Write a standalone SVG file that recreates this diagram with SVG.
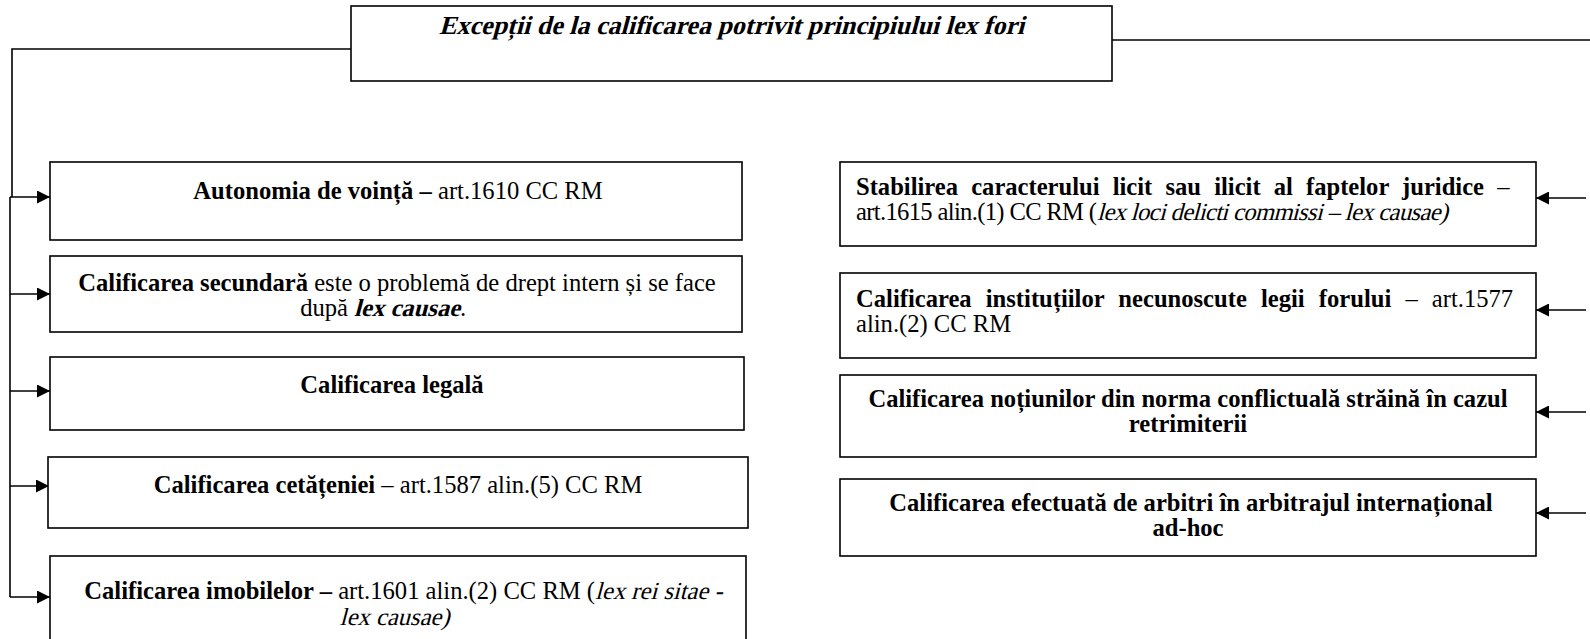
<svg xmlns="http://www.w3.org/2000/svg" width="1590" height="639" viewBox="0 0 1590 639">
<style>
.box{fill:#fff;stroke:#000;stroke-width:1.6}
.ln{fill:none;stroke:#000;stroke-width:1.6}
text{font-family:"Liberation Serif",serif;font-size:24.6px;fill:#000}
.b{font-weight:bold}
.c{text-anchor:middle}
.e{text-anchor:end}
.title{font-size:26px;font-weight:bold}
</style>
<defs>
<marker id="ah" markerUnits="userSpaceOnUse" markerWidth="14" markerHeight="13" refX="13" refY="6.5" orient="auto">
<path d="M0,0 L13,6.5 L0,13 Z" fill="#000"/>
</marker>
</defs>
<g id="connectors">
<polyline class="ln" points="351,49 12,49 12,197"/>
<line class="ln" x1="10" y1="197" x2="10" y2="597"/>
<line class="ln" x1="10" y1="197" x2="50" y2="197" marker-end="url(#ah)"/>
<line class="ln" x1="10" y1="294" x2="50" y2="294" marker-end="url(#ah)"/>
<line class="ln" x1="10" y1="391" x2="50" y2="391" marker-end="url(#ah)"/>
<line class="ln" x1="10" y1="486" x2="49" y2="486" marker-end="url(#ah)"/>
<line class="ln" x1="10" y1="597" x2="50" y2="597" marker-end="url(#ah)"/>
<line class="ln" x1="1112" y1="40" x2="1590" y2="40"/>
<line class="ln" x1="1586" y1="198" x2="1536" y2="198" marker-end="url(#ah)"/>
<line class="ln" x1="1586" y1="310" x2="1536" y2="310" marker-end="url(#ah)"/>
<line class="ln" x1="1586" y1="412" x2="1536" y2="412" marker-end="url(#ah)"/>
<line class="ln" x1="1586" y1="513" x2="1536" y2="513" marker-end="url(#ah)"/>
</g>
<g id="title">
<rect class="box" x="351" y="6" width="761" height="75"/>
<text class="title c" x="740.6" y="34" transform="skewX(-15)">Excepții de la calificarea potrivit principiului lex fori</text>
</g>
<g id="autonomia">
<rect class="box" x="50" y="162" width="692" height="78"/>
<text class="c" x="398" y="199"><tspan class="b">Autonomia de voință –</tspan> art.1610 CC RM</text>
</g>
<g id="secundara">
<rect class="box" x="50" y="256" width="692" height="76"/>
<text class="c" x="397" y="291"><tspan class="b">Calificarea secundară</tspan> este o problemă de drept intern și se face</text>
<text class="e" x="348" y="316">după</text>
<text class="b" x="438.7" y="316" transform="skewX(-15)">lex causae</text>
<text x="460" y="316">.</text>
</g>
<g id="legala">
<rect class="box" x="50" y="357" width="694" height="73"/>
<text class="c b" x="392" y="393">Calificarea legală</text>
</g>
<g id="cetateniei">
<rect class="box" x="48" y="457" width="700" height="71"/>
<text class="c" x="398" y="493"><tspan class="b">Calificarea cetățeniei</tspan> – art.1587 alin.(5) CC RM</text>
</g>
<g id="imobilelor">
<rect class="box" x="50" y="556" width="696" height="110"/>
<text class="e" x="595" y="599"><tspan class="b">Calificarea imobilelor –</tspan> art.1601 alin.(2) CC RM (</text>
<text x="755.4" y="599" transform="skewX(-15)">lex rei sitae -</text>
<text class="c" x="562" y="625" transform="skewX(-15)">lex causae)</text>
</g>
<g id="licit">
<rect class="box" x="840" y="162" width="696" height="84"/>
<text x="856" y="195" style="word-spacing:7px"><tspan class="b">Stabilirea caracterului licit sau ilicit al faptelor juridice</tspan> –</text>
<text x="856" y="220" textLength="241" lengthAdjust="spacing">art.1615 alin.(1) CC RM (</text>
<text x="1155.9" y="220" transform="skewX(-15)" textLength="351" lengthAdjust="spacing">lex loci delicti commissi – lex causae)</text>
</g>
<g id="institutii">
<rect class="box" x="840" y="273" width="696" height="85"/>
<text x="856" y="307" style="word-spacing:8px"><tspan class="b">Calificarea instituțiilor necunoscute legii forului</tspan> – art.1577</text>
<text x="856" y="332">alin.(2) CC RM</text>
</g>
<g id="retrimiterii">
<rect class="box" x="840" y="375" width="696" height="82"/>
<text class="c b" x="1188" y="407">Calificarea noțiunilor din norma conflictuală străină în cazul</text>
<text class="c b" x="1188" y="432">retrimiterii</text>
</g>
<g id="arbitri">
<rect class="box" x="840" y="479" width="696" height="77"/>
<text class="c b" x="1191" y="511">Calificarea efectuată de arbitri în arbitrajul internațional</text>
<text class="c b" x="1188" y="536">ad-hoc</text>
</g>
</svg>
